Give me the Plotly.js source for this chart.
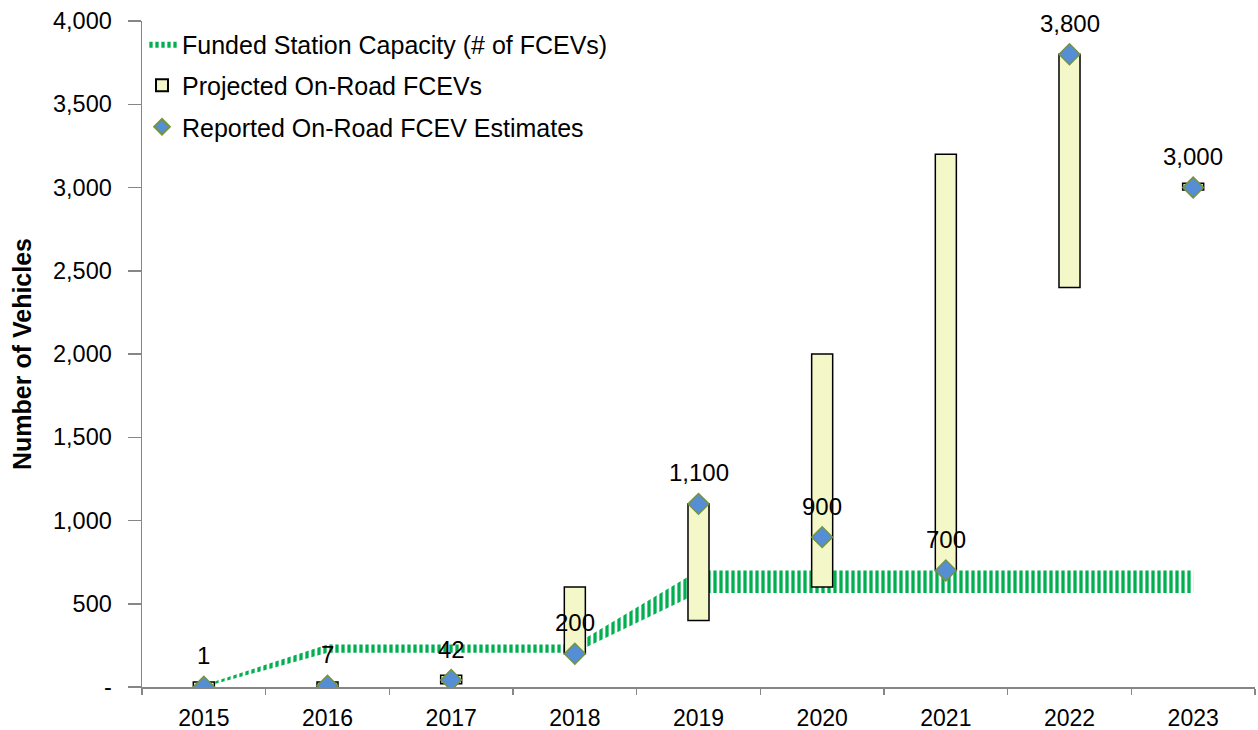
<!DOCTYPE html>
<html>
<head>
<meta charset="utf-8">
<script src="https://cdn.plot.ly/plotly-3.0.1.min.js"></script>
<style>html,body{margin:0;padding:0;background:#fff;}#chart{width:1258px;height:730px;}</style>
</head>
<body>
<div id="chart"></div>
<script>
const years = ['2015','2016','2017','2018','2019','2020','2021','2022','2023'];
const capacityLow  = [0, 205, 205, 205, 565, 565, 565, 565, 565];
const capacityHigh = [12, 255, 255, 255, 700, 700, 700, 700, 700];
const projectedLow  = [0, 0, 20, 200, 400, 600, 700, 2400, 2985];
const projectedHigh = [30, 30, 70, 600, 1100, 2000, 3200, 3800, 3025];
const reported = [1, 7, 42, 200, 1100, 900, 700, 3800, 3000];
const reportedLabels = ['1', '7', '42', '200', '1,100', '900', '700', '3,800', '3,000'];
const yTickVals = [0, 500, 1000, 1500, 2000, 2500, 3000, 3500, 4000];
const yTickText = ['-', '500', '1,000', '1,500', '2,000', '2,500', '3,000', '3,500', '4,000'];

const FONT = 'Liberation Sans, Arial, sans-serif';

const traces = [
  {
    type: 'scatter', mode: 'lines', x: years, y: capacityLow,
    line: {width: 0, color: 'rgba(0,0,0,0)'}, showlegend: false, hoverinfo: 'skip',
    xaxis: 'x', yaxis: 'y'
  },
  {
    type: 'scatter', mode: 'lines', x: years, y: capacityHigh,
    name: 'Funded Station Capacity (# of FCEVs)',
    legendgroup: 'a',
    fill: 'tonexty', fillcolor: 'rgba(0,0,0,0)',
    fillpattern: {shape: '|', fgcolor: '#00b050', bgcolor: 'rgba(255,255,255,0)', size: 6, solidity: 0.55},
    line: {width: 0, color: '#00b050'},
    xaxis: 'x', yaxis: 'y'
  },
  {
    type: 'bar', x: years,
    base: projectedLow,
    y: projectedHigh.map((h, i) => h - projectedLow[i]),
    name: 'Projected On-Road FCEVs',
    legendgroup: 'b',
    width: 0.17,
    marker: {color: '#f4f7c8', line: {color: '#000000', width: 1.5}},
    xaxis: 'x', yaxis: 'y2'
  },
  {
    type: 'scatter', mode: 'markers', x: years, y: reported,
    name: 'Reported On-Road FCEV Estimates',
    legendgroup: 'c',
    marker: {symbol: 'diamond', size: 16, color: '#558ed5', line: {color: '#77933c', width: 1.5}},
    xaxis: 'x', yaxis: 'y2'
  }
];

const annotations = years.map((yr, i) => ({
  x: i, y: reported[i], xref: 'x', yref: 'y2',
  text: reportedLabels[i], showarrow: false,
  yshift: 31, yanchor: 'middle',
  font: {family: FONT, size: 24, color: '#000'}
}));

const yaxisCommon = {
  range: [0, 4000],
  tickvals: yTickVals,
  ticktext: yTickText,
};

const layout = {
  width: 1258, height: 730,
  margin: {l: 142, r: 3, t: 21, b: 43},
  paper_bgcolor: '#fff', plot_bgcolor: '#fff',
  showlegend: true,
  barmode: 'overlay',
  font: {family: FONT, size: 23, color: '#000'},
  xaxis: {
    type: 'category',
    range: [-0.5, 8.5],
    tickson: 'boundaries',
    ticks: 'outside', ticklen: 6, tickcolor: '#868686', tickwidth: 1.5,
    ticklabelstandoff: 10,
    showline: true, linecolor: '#868686', linewidth: 1.5,
    showgrid: false, zeroline: false,
    tickfont: {family: FONT, size: 23, color: '#000'},
    fixedrange: true
  },
  yaxis: Object.assign({}, yaxisCommon, {
    ticks: 'outside', ticklen: 13, tickcolor: '#868686', tickwidth: 1.5,
    ticklabelstandoff: 11,
    showline: true, linecolor: '#868686', linewidth: 1.5,
    showgrid: false, zeroline: false,
    tickfont: {family: FONT, size: 23.5, color: '#000'},
    title: {text: 'Number of Vehicles', font: {family: FONT, size: 25, color: '#000', weight: 'bold'}, standoff: 14}
  }),
  yaxis2: Object.assign({}, yaxisCommon, {
    overlaying: 'y', side: 'left',
    showline: false, showgrid: false, zeroline: false, showticklabels: false, ticks: ''
  }),
  legend: {
    x: 0.0, y: 1.0, xanchor: 'left', yanchor: 'top',
    bgcolor: 'rgba(255,255,255,0)',
    traceorder: 'grouped', tracegroupgap: 6,
    itemsizing: 'constant',
    font: {family: FONT, size: 25, color: '#000'},
    itemwidth: 30
  },
  annotations: annotations
};

Plotly.newPlot('chart', traces, layout, {displayModeBar: false, staticPlot: true});
</script>
</body>
</html>
